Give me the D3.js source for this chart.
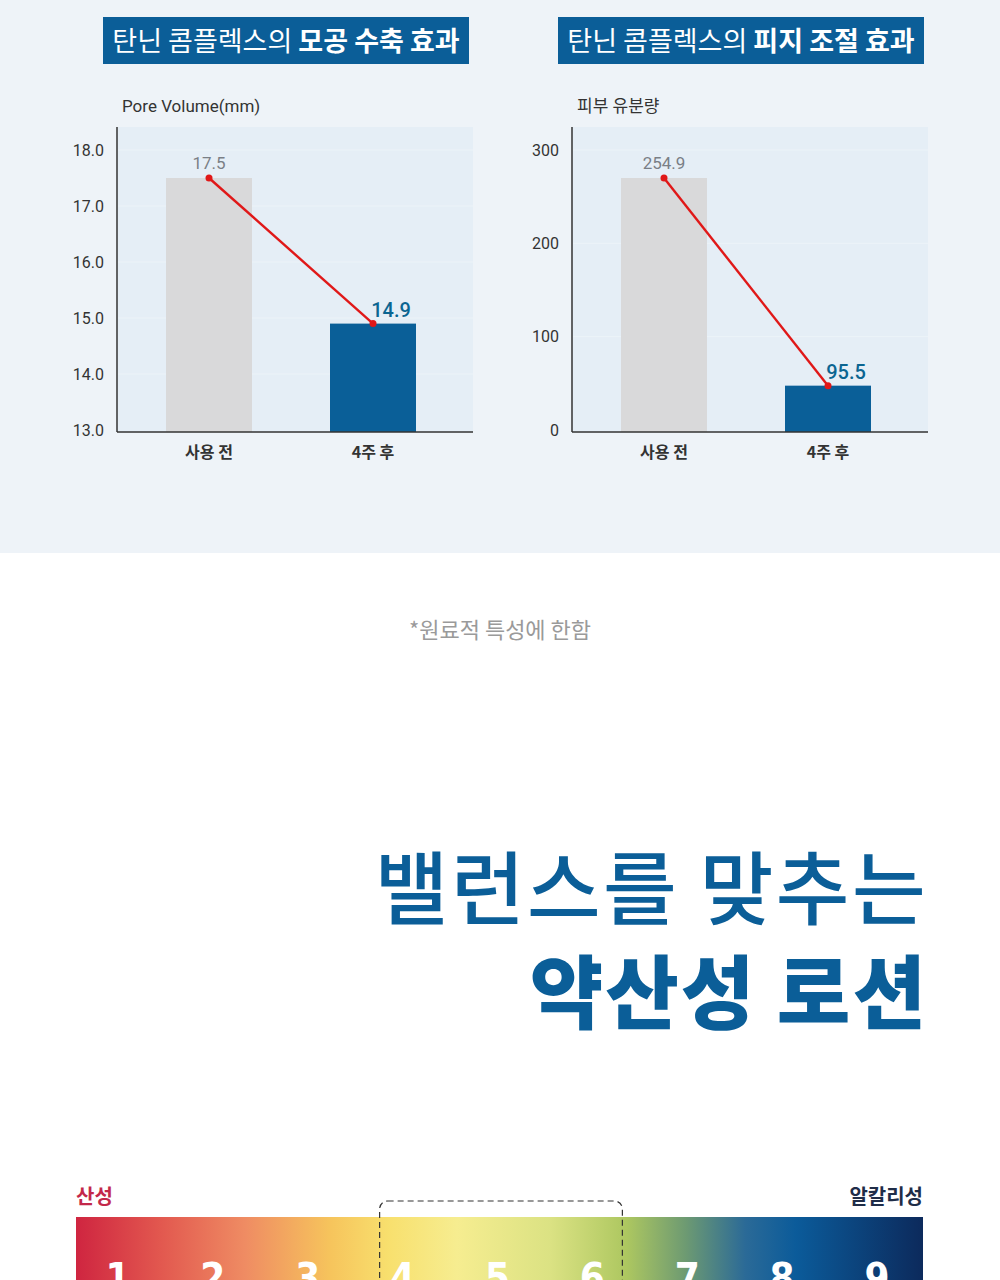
<!DOCTYPE html>
<html>
<head>
<meta charset="utf-8">
<script src="https://cdn.jsdelivr.net/npm/d3@7"></script>
<style>
  body { margin: 0; background: #fff; }
  svg text { font-family: "Noto Sans CJK KR", "Noto Sans", sans-serif; }
</style>
</head>
<body>
<div id="my_dataviz"></div>
<script>
// data
const categories = ["사용 전", "4주 후"]

const poreTitle = ["탄닌 콤플렉스의 ", "모공 수축 효과"]
const poreAxisLabel = "Pore Volume(mm)"
const poreValues = [17.5, 14.9]
const poreLabels = ["17.5", "14.9"]
const poreTicks = [13, 14, 15, 16, 17, 18]

const oilTitle = ["탄닌 콤플렉스의 ", "피지 조절 효과"]
const oilAxisLabel = "피부 유분량"
// bar heights as drawn in the picture (they do not follow their labels)
const oilBarHeights = [270, 47.5]
const oilLabels = ["254.9", "95.5"]
const oilTicks = [0, 100, 200, 300]

const footnote = "*원료적 특성에 한함"
const headline = ["밸런스를 맞추는", "약산성 로션"]

const phValues = [1, 2, 3, 4, 5, 6, 7, 8, 9]
const phLeft = "산성"
const phRight = "알칼리성"
const phRange = [4, 6]

const blue = "#0b5e98"

const svg = d3.select("#my_dataviz")
  .append("svg")
    .attr("width", 1000)
    .attr("height", 1280)

// top panel background
svg.append("rect")
  .attr("width", 1000).attr("height", 553)
  .attr("fill", "#eef3f8")

// draws one of the two small bar charts
function barChart(left, title, axisLabel, values, labels, ticks, domain, tickFmt) {
  const g = svg.append("g").attr("transform", `translate(${left},0)`)
  const x0 = 117, x1 = 473, yTop = 127, yBase = 432

  // title box
  g.append("rect")
    .attr("x", 103).attr("y", 17).attr("width", 366).attr("height", 47)
    .attr("fill", blue)
  const t = g.append("text")
    .attr("x", 286).attr("y", 51)
    .attr("text-anchor", "middle")
    .attr("fill", "#fff")
    .style("font-size", "27px")
  t.append("tspan").attr("font-weight", 400).text(title[0])
  t.append("tspan").attr("font-weight", 700).text(title[1])

  g.append("text")
    .attr("x", x0 + 5).attr("y", 112)
    .attr("fill", "#333")
    .style("font-size", "17px")
    .style("font-family", "Roboto, 'Noto Sans CJK KR', sans-serif")
    .text(axisLabel)

  // plot background
  g.append("rect")
    .attr("x", x0).attr("y", yTop).attr("width", x1 - x0).attr("height", yBase - yTop)
    .attr("fill", "#e5eef6")

  const y = d3.scaleLinear().domain(domain).range([430, 150])
  const cx = d3.scalePoint().domain(categories).range([209, 373])

  // faint gridlines
  g.append("g")
    .selectAll("line")
    .data(ticks.slice(1))
    .join("line")
      .attr("x1", x0 + 1).attr("x2", x1)
      .attr("y1", d => y(d)).attr("y2", d => y(d))
      .attr("stroke", "#ecf3f8").attr("stroke-width", 1)

  // bars
  const bw = 86
  g.append("g")
    .selectAll("rect")
    .data(values)
    .join("rect")
      .attr("x", (d, i) => cx(categories[i]) - bw / 2)
      .attr("width", bw)
      .attr("y", d => y(d))
      .attr("height", d => yBase - y(d))
      .attr("fill", (d, i) => i === 0 ? "#d9d9da" : "#0a5f98")

  // axes
  const yAxis = g.append("g")
    .attr("transform", `translate(${x0},0)`)
    .call(d3.axisLeft(y).tickValues(ticks).tickFormat(tickFmt).tickSize(0).tickPadding(13))
  yAxis.select(".domain").remove()
  yAxis.selectAll("text")
    .style("font-size", "16px")
    .style("font-family", "Roboto, sans-serif")
    .attr("fill", "#333")
  g.append("line")
    .attr("x1", x0).attr("x2", x0).attr("y1", yTop).attr("y2", yBase)
    .attr("stroke", "#333").attr("stroke-width", 1.5)
  g.append("line")
    .attr("x1", x0).attr("x2", x1).attr("y1", yBase).attr("y2", yBase)
    .attr("stroke", "#333").attr("stroke-width", 1.5)

  g.append("g")
    .selectAll("text")
    .data(categories)
    .join("text")
      .attr("x", d => cx(d)).attr("y", 458)
      .attr("text-anchor", "middle")
      .attr("font-weight", 700)
      .attr("fill", "#333")
      .style("font-size", "16px")
      .text(d => d)

  // red connecting line
  const pts = values.map((v, i) => [cx(categories[i]), y(v)])
  g.append("path")
    .attr("d", d3.line()(pts))
    .attr("fill", "none")
    .attr("stroke", "#e01818")
    .attr("stroke-width", 2.4)
  g.append("g")
    .selectAll("circle")
    .data(pts)
    .join("circle")
      .attr("cx", d => d[0]).attr("cy", d => d[1]).attr("r", 3.5)
      .attr("fill", "#e01818")

  // value labels
  g.append("text")
    .attr("x", pts[0][0]).attr("y", pts[0][1] - 9)
    .attr("text-anchor", "middle")
    .attr("fill", "#7a7f86")
    .style("font-size", "17px")
    .style("font-family", "Roboto, sans-serif")
    .text(labels[0])
  g.append("text")
    .attr("x", pts[1][0] + 18).attr("y", pts[1][1] - 7)
    .attr("text-anchor", "middle")
    .attr("fill", "#0b6591")
    .attr("font-weight", 500)
    .style("font-size", "20px")
    .style("font-family", "Roboto, sans-serif")
    .text(labels[1])
}

barChart(0, poreTitle, poreAxisLabel, poreValues, poreLabels, poreTicks, [13, 18], d3.format(".1f"))
barChart(455, oilTitle, oilAxisLabel, oilBarHeights, oilLabels, oilTicks, [0, 300], d3.format("d"))

// footnote
svg.append("text")
  .attr("x", 500).attr("y", 638)
  .attr("text-anchor", "middle")
  .attr("fill", "#9a9a9a")
  .style("font-size", "22px")
  .text(footnote)

// headline
svg.append("text")
  .attr("x", 928).attr("y", 918)
  .attr("text-anchor", "end")
  .attr("fill", blue)
  .attr("font-weight", 500)
  .style("font-size", "80px")
  .style("letter-spacing", "2.5px")
  .text(headline[0])
svg.append("text")
  .attr("x", 928).attr("y", 1022)
  .attr("text-anchor", "end")
  .attr("fill", blue)
  .attr("font-weight", 900)
  .style("font-size", "80px")
  .style("letter-spacing", "2px")
  .text(headline[1])

// pH scale
const px = d3.scaleLinear().domain([1, 9]).range([118, 877])

const grad = svg.append("defs").append("linearGradient")
  .attr("id", "ph").attr("x1", "0%").attr("x2", "100%")
const stops = [
  [0, "#cf2540"], [0.1, "#e2584f"], [0.2, "#ef8c63"], [0.3, "#f6c45c"],
  [0.37, "#f8e06e"], [0.45, "#f6ed90"], [0.56, "#dbe283"], [0.65, "#adc760"],
  [0.72, "#6d9a72"], [0.79, "#2b6a97"], [0.85, "#0b5b9a"], [1, "#0c2a5c"]
]
grad.selectAll("stop")
  .data(stops)
  .join("stop")
    .attr("offset", d => d[0])
    .attr("stop-color", d => d[1])

svg.append("rect")
  .attr("x", 76).attr("y", 1217).attr("width", 847).attr("height", 80)
  .attr("fill", "url(#ph)")

svg.append("text")
  .attr("x", 76).attr("y", 1204)
  .attr("fill", "#c3284a")
  .attr("font-weight", 700)
  .style("font-size", "20px")
  .text(phLeft)
svg.append("text")
  .attr("x", 923).attr("y", 1204)
  .attr("text-anchor", "end")
  .attr("fill", "#1f2d48")
  .attr("font-weight", 700)
  .style("font-size", "20px")
  .text(phRight)

// numbers run off the bottom edge, as in the source
svg.append("g")
  .selectAll("text")
  .data(phValues)
  .join("text")
    .attr("x", d => px(d)).attr("y", 1292)
    .attr("text-anchor", "middle")
    .attr("fill", "#fff")
    .attr("font-weight", 700)
    .style("font-size", "40px")
    .style("font-family", "'Liberation Sans Narrow', 'DejaVu Sans Condensed', sans-serif")
    .text(d => d)

// dashed box around the mildly acidic range
svg.append("rect")
  .attr("x", px(phRange[0]) - 23).attr("y", 1201)
  .attr("width", px(phRange[1]) - px(phRange[0]) + 53).attr("height", 120)
  .attr("rx", 8)
  .attr("fill", "none")
  .attr("stroke", "#333")
  .attr("stroke-width", 1.2)
  .attr("stroke-dasharray", "6,4")
</script>
</body>
</html>
